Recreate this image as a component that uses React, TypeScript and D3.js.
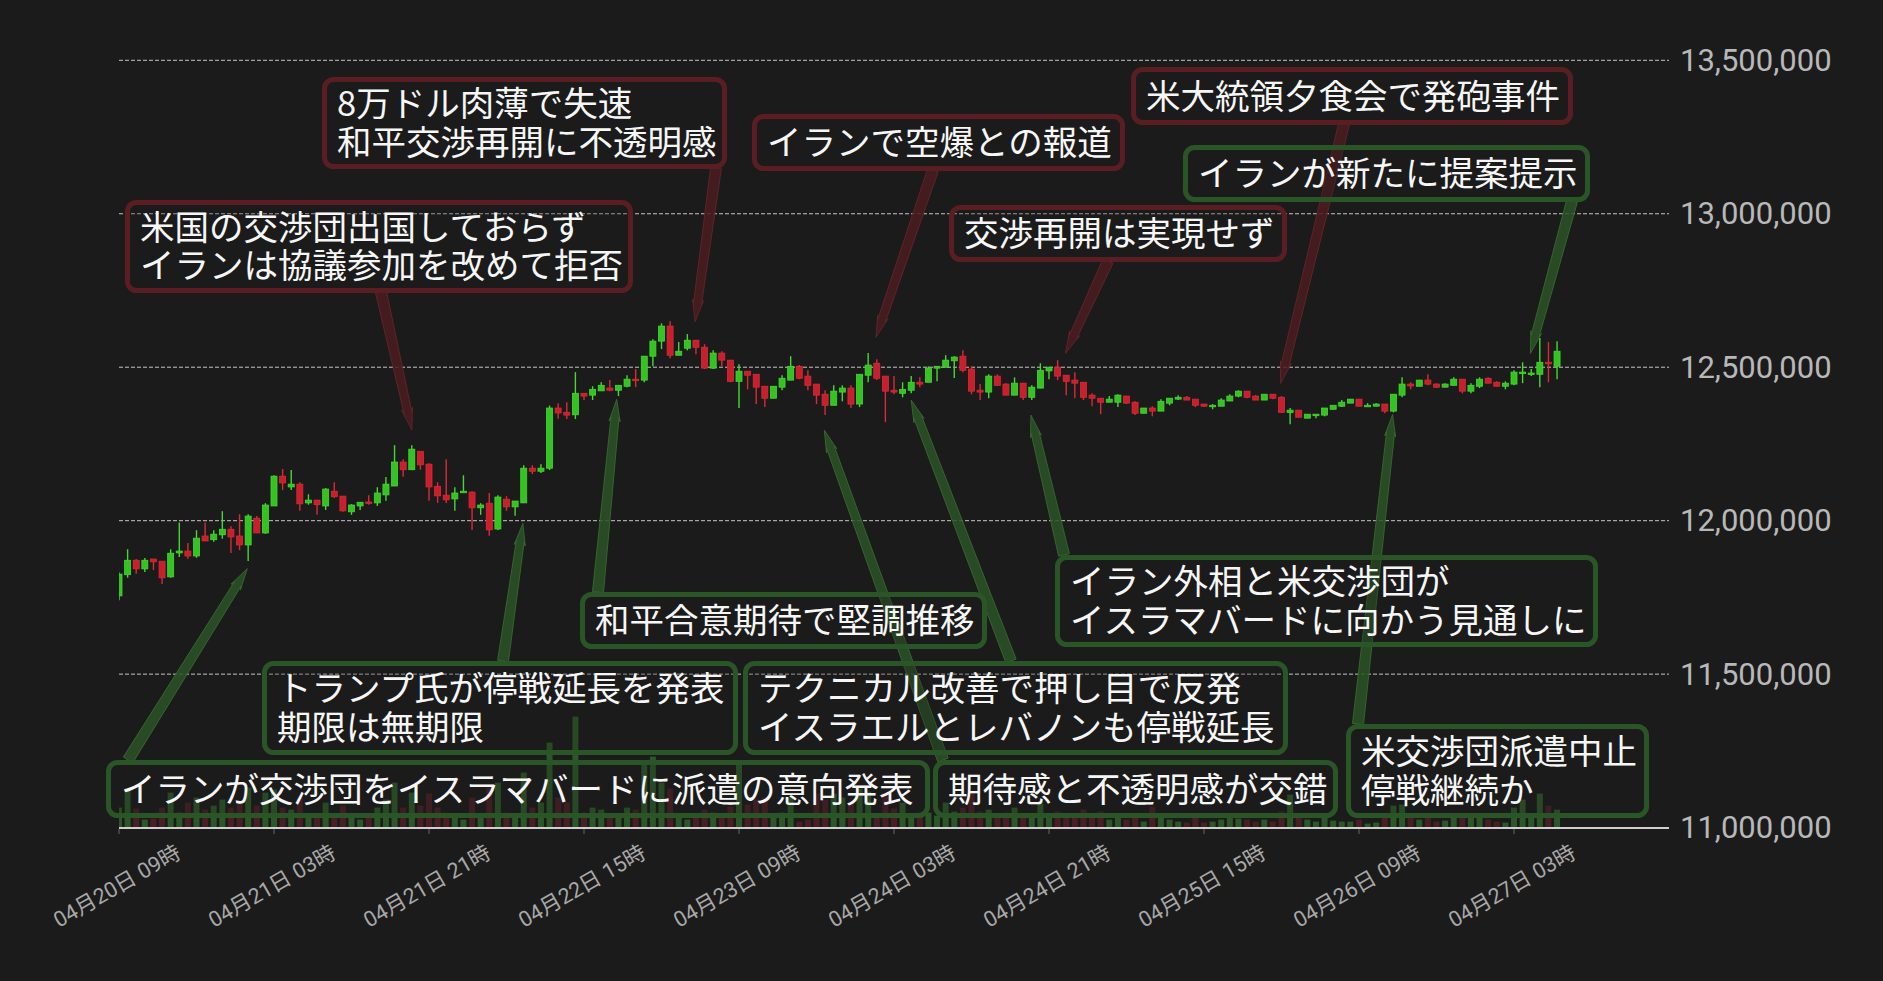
import React from "react";
import * as d3 from "d3";

const W = 1883;
const H = 981;

// hourly candles, values in thousands of JPY
const START = new Date(2026, 3, 20, 9, 0, 0);
const END = new Date(2026, 3, 27, 21, 0, 0);

const opens = [
  11755, 11824, 11871, 11843, 11875, 11868, 11817, 11895, 11901, 11885,
  11950, 11938, 11954, 11972, 11950, 11921, 12008, 11960, 12048, 12145,
  12110, 12119, 12058, 12067, 12048, 12096, 12080, 12029, 12048, 12061,
  12058, 12084, 12113, 12191, 12166, 12226, 12184, 12112, 12083, 12071,
  12091, 12093, 12042, 12057, 11973, 12070, 12045, 12058, 12171, 12161,
  12171, 12367, 12353, 12345, 12415, 12409, 12423, 12432, 12425, 12438,
  12461, 12458, 12536, 12585, 12634, 12539, 12562, 12588, 12565, 12497,
  12546, 12523, 12454, 12487, 12477, 12438, 12399, 12435, 12458, 12503,
  12471, 12445, 12412, 12376, 12419, 12432, 12380, 12474, 12513, 12471,
  12425, 12415, 12425, 12451, 12451, 12497, 12500, 12521, 12536, 12494,
  12425, 12419, 12471, 12445, 12409, 12448, 12402, 12432, 12488, 12500,
  12474, 12458, 12451, 12409, 12399, 12386, 12386, 12406, 12386, 12350,
  12367, 12357, 12383, 12396, 12402, 12396, 12380, 12373, 12373, 12390,
  12406, 12422, 12406, 12393, 12412, 12402, 12353, 12360, 12334, 12343,
  12344, 12363, 12373, 12383, 12396, 12373, 12373, 12380, 12357, 12409,
  12445, 12438, 12458, 12445, 12435, 12441, 12461, 12422, 12438, 12464,
  12451, 12438, 12445, 12481, 12477, 12477, 12516, 12503,
];
const highs = [
  11832, 11907, 11875, 11878, 11875, 11868, 11907, 11994, 11927, 11969,
  11994, 11969, 12031, 11982, 12021, 12021, 12015, 12057, 12148, 12168,
  12165, 12125, 12086, 12067, 12106, 12125, 12080, 12054, 12060, 12083,
  12109, 12142, 12246, 12200, 12246, 12226, 12187, 12125, 12200, 12109,
  12148, 12096, 12057, 12090, 12083, 12080, 12064, 12181, 12181, 12184,
  12375, 12383, 12386, 12484, 12415, 12438, 12451, 12458, 12441, 12474,
  12494, 12536, 12591, 12643, 12650, 12582, 12608, 12588, 12575, 12555,
  12552, 12523, 12510, 12487, 12477, 12438, 12438, 12474, 12536, 12507,
  12490, 12445, 12425, 12441, 12441, 12441, 12477, 12546, 12526, 12471,
  12471, 12451, 12471, 12467, 12503, 12503, 12539, 12536, 12555, 12503,
  12445, 12477, 12477, 12448, 12467, 12448, 12441, 12513, 12500, 12523,
  12474, 12484, 12451, 12415, 12399, 12406, 12412, 12406, 12389, 12367,
  12373, 12396, 12399, 12409, 12406, 12396, 12380, 12380, 12399, 12412,
  12425, 12422, 12409, 12412, 12412, 12406, 12367, 12360, 12347, 12347,
  12367, 12376, 12393, 12396, 12396, 12383, 12383, 12380, 12412, 12467,
  12451, 12458, 12477, 12448, 12448, 12467, 12461, 12448, 12467, 12467,
  12454, 12454, 12490, 12516, 12494, 12595, 12582, 12585,
];
const lows = [
  11741, 11814, 11827, 11833, 11839, 11794, 11814, 11882, 11876, 11879,
  11934, 11931, 11941, 11895, 11904, 11869, 11960, 11957, 12048, 12100,
  12100, 12032, 12052, 12019, 12035, 12074, 12029, 12019, 12035, 12052,
  12048, 12065, 12113, 12143, 12166, 12166, 12065, 12058, 12058, 12032,
  12091, 11970, 12019, 11951, 11970, 12032, 12016, 12058, 12152, 12155,
  12165, 12332, 12331, 12331, 12393, 12393, 12423, 12422, 12406, 12435,
  12435, 12451, 12503, 12559, 12529, 12539, 12555, 12542, 12494, 12494,
  12503, 12451, 12367, 12428, 12380, 12370, 12399, 12425, 12458, 12461,
  12425, 12380, 12344, 12376, 12389, 12367, 12370, 12451, 12458, 12321,
  12412, 12402, 12415, 12435, 12451, 12454, 12500, 12465, 12484, 12412,
  12393, 12399, 12441, 12409, 12409, 12393, 12393, 12432, 12461, 12458,
  12409, 12399, 12393, 12373, 12347, 12386, 12370, 12380, 12344, 12350,
  12340, 12357, 12376, 12393, 12393, 12370, 12370, 12363, 12373, 12390,
  12402, 12399, 12393, 12393, 12396, 12353, 12314, 12337, 12334, 12334,
  12340, 12363, 12370, 12383, 12373, 12373, 12373, 12350, 12353, 12402,
  12428, 12438, 12441, 12432, 12435, 12441, 12415, 12415, 12432, 12448,
  12438, 12428, 12441, 12448, 12471, 12435, 12451, 12461,
];
const closes = [
  11826, 11871, 11843, 11871, 11866, 11814, 11894, 11901, 11885, 11943,
  11934, 11956, 11972, 11947, 11921, 12015, 11960, 12051, 12145, 12123,
  12119, 12055, 12067, 12052, 12103, 12078, 12032, 12051, 12060, 12058,
  12090, 12119, 12191, 12166, 12233, 12182, 12110, 12081, 12068, 12090,
  12096, 12042, 12051, 11970, 12077, 12045, 12064, 12171, 12161, 12171,
  12367, 12351, 12344, 12415, 12406, 12428, 12441, 12425, 12441, 12461,
  12458, 12536, 12585, 12634, 12539, 12552, 12588, 12565, 12497, 12546,
  12523, 12454, 12487, 12474, 12435, 12399, 12438, 12464, 12503, 12464,
  12441, 12409, 12376, 12422, 12432, 12380, 12477, 12507, 12464, 12422,
  12419, 12428, 12451, 12445, 12497, 12503, 12523, 12533, 12490, 12422,
  12419, 12471, 12441, 12409, 12448, 12402, 12435, 12490, 12500, 12471,
  12454, 12448, 12402, 12399, 12386, 12396, 12409, 12383, 12350, 12367,
  12357, 12389, 12399, 12402, 12393, 12376, 12373, 12376, 12393, 12406,
  12422, 12402, 12393, 12412, 12399, 12353, 12360, 12337, 12347, 12347,
  12367, 12376, 12386, 12396, 12373, 12376, 12380, 12357, 12412, 12445,
  12439, 12458, 12445, 12435, 12445, 12461, 12422, 12441, 12461, 12448,
  12438, 12448, 12484, 12484, 12481, 12516, 12513, 12552,
];
const volumes = [
  20, 39, 19, 8, 9, 20, 35, 15, 25, 30,
  18, 22, 28, 20, 26, 40, 22, 35, 38, 20,
  18, 30, 10, 12, 25, 14, 22, 10, 8, 12,
  20, 28, 45, 20, 35, 22, 34, 20, 15, 12,
  8, 30, 10, 40, 45, 15, 12, 55, 20, 25,
  85, 30, 25, 111, 15, 20, 18, 12, 10, 20,
  18, 66, 71, 45, 39, 13, 8, 10, 18, 15,
  12, 21, 66, 23, 28, 30, 12, 15, 30, 6,
  8, 34, 28, 34, 30, 25, 39, 36, 13, 34,
  19, 25, 10, 15, 15, 12, 25, 16, 20, 36,
  16, 18, 12, 15, 20, 14, 12, 24, 10, 16,
  12, 14, 18, 10, 16, 8, 10, 8, 14, 6,
  21, 12, 8, 6, 5, 10, 5, 6, 8, 10,
  9, 8, 6, 8, 6, 16, 33, 10, 8, 6,
  12, 7, 6, 6, 8, 4, 5, 10, 22, 23,
  10, 8, 12, 6, 7, 12, 14, 10, 12, 8,
  6, 5, 20, 28, 10, 34, 22, 18,
];

const yTicks = [11000000, 11500000, 12000000, 12500000, 13000000, 13500000];
const xTickStrings = [
  "2026-04-20T09:00", "2026-04-21T03:00", "2026-04-21T21:00", "2026-04-22T15:00",
  "2026-04-23T09:00", "2026-04-24T03:00", "2026-04-24T21:00", "2026-04-25T15:00",
  "2026-04-26T09:00", "2026-04-27T03:00",
];

// annotations: text lines, tone, and the candle (hour index) + price the arrow points at
const annTexts = [
  ["米国の交渉団出国しておらず", "イランは協議参加を改めて拒否"],
  ["8万ドル肉薄で失速", "和平交渉再開に不透明感"],
  ["イランで空爆との報道"],
  ["米大統領夕食会で発砲事件"],
  ["交渉再開は実現せず"],
  ["イランが新たに提案提示"],
  ["和平合意期待で堅調推移"],
  ["トランプ氏が停戦延長を発表", "期限は無期限"],
  ["テクニカル改善で押し目で反発", "イスラエルとレバノンも停戦延長"],
  ["イランが交渉団をイスラマバードに派遣の意向発表"],
  ["期待感と不透明感が交錯"],
  ["イラン外相と米交渉団が", "イスラマバードに向かう見通しに"],
  ["米交渉団派遣中止", "停戦継続か"],
];
const annTones = ["red", "red", "red", "red", "red", "green", "green", "green", "green", "green", "green", "green", "green"];
const annHour = [34, 66.9, 87.9, 134.9, 109.9, 163.9, 57.8, 46.9, 92, 14.9, 81.9, 105.9, 147.9];
const annPrice = [12295000, 12648000, 12597000, 12447000, 12545000, 12545000, 12395000, 11991000, 12393000, 11844000, 12295000, 12344000, 12346000];

// layout of the callout boxes (outer box) and where the arrow leaves the box
const boxLayout = [
  { x: 125, y: 200, w: 508, h: 93, sx: 381, sy: 292 },
  { x: 322, y: 77, w: 405, h: 92, sx: 716, sy: 168 },
  { x: 752, y: 114, w: 373, h: 57, sx: 933, sy: 170 },
  { x: 1131, y: 67, w: 442, h: 58, sx: 1344, sy: 124 },
  { x: 949, y: 205, w: 338, h: 57, sx: 1108, sy: 261 },
  { x: 1183, y: 145, w: 407, h: 57, sx: 1572, sy: 201 },
  { x: 580, y: 592, w: 407, h: 57, sx: 598, sy: 592 },
  { x: 262, y: 661, w: 476, h: 94, sx: 503, sy: 661 },
  { x: 743, y: 661, w: 545, h: 94, sx: 1011, sy: 661 },
  { x: 106, y: 760, w: 824, h: 58, sx: 128, sy: 760 },
  { x: 933, y: 760, w: 405, h: 58, sx: 943, sy: 760 },
  { x: 1055, y: 555, w: 543, h: 92, sx: 1064, sy: 555 },
  { x: 1346, y: 724, w: 303, h: 94, sx: 1358, sy: 724 },
];

const BG = "#1b1b1b";
const UP = "#34c321";
const UP_EDGE = "#46d832";
const DOWN = "#c7202c";
const DOWN_EDGE = "#d92a37";
const TONE = {
  red: { stroke: "#5a1e22", arrow: "#4b1c20", arrowEdge: "#62252a" },
  green: { stroke: "#2a5526", arrow: "#2a5226", arrowEdge: "#37692f" },
};

function arrowPoints(sx: number, sy: number, tx: number, ty: number) {
  const dx = tx - sx, dy = ty - sy;
  const L = Math.hypot(dx, dy);
  const ux = dx / L, uy = dy / L;
  const nx = -uy, ny = ux;
  const hw0 = 5.5, hw1 = 4, hh = 5.5, headLen = 18;
  const px = tx - ux * headLen, py = ty - uy * headLen;
  const pts = [
    [sx + nx * hw0, sy + ny * hw0],
    [px + nx * hw1, py + ny * hw1],
    [px + nx * hh - ux * 4, py + ny * hh - uy * 4],
    [tx, ty],
    [px - nx * hh - ux * 4, py - ny * hh - uy * 4],
    [px - nx * hw1, py - ny * hw1],
    [sx - nx * hw0, sy - ny * hw0],
  ];
  return pts.map((p) => p.map((v) => v.toFixed(1)).join(",")).join(" ");
}

export default function App() {
  const left = 119, right = 1669;
  const x = d3.scaleTime().domain([START, END]).range([left, right]);
  const y = d3.scaleLinear().domain([11000000, 13500000]).range([827.6, 60.3]);
  const vH = d3.scaleLinear().domain([0, 120]).range([0, 120]);
  const times = d3.timeHour.range(START, d3.timeHour.offset(START, opens.length));
  const parse = d3.timeParse("%Y-%m-%dT%H:%M");
  const xTicks = xTickStrings.map((s) => parse(s) as Date);
  const fmt = d3.timeFormat("%m月%d日 %H時");
  const yFmt = d3.format(",");
  const bw = 6;
  const K = 1000;

  return (
    <svg width={W} height={H} style={{ position: "absolute", left: 0, top: 0, display: "block" }}>
      <defs>
        <clipPath id="plot">
          <rect x={left} y={0} width={right - left} height={828} />
        </clipPath>
      </defs>
      <rect x={0} y={0} width={W} height={H} fill={BG} />
      {/* gridlines */}
      {yTicks.slice(1).map((t) => (
        <line key={t} x1={left} x2={right} y1={y(t)} y2={y(t)} stroke="#c4c4c4" strokeWidth={1} strokeDasharray="4,2" />
      ))}
      {/* volume */}
      <g clipPath="url(#plot)">
        {times.map((t, i) => {
          const up = closes[i] >= opens[i];
          const h = vH(volumes[i]);
          return (
            <rect key={"v" + i} x={x(t) - bw / 2} y={827.6 - h} width={bw} height={h} fill={up ? "#2b5826" : "#4a1f24"} />
          );
        })}
      </g>
      {/* candles */}
      <g clipPath="url(#plot)">
        {times.map((t, i) => {
          const up = closes[i] >= opens[i];
          const cx = x(t);
          const o = y(opens[i] * K), c = y(closes[i] * K);
          const hi = y(highs[i] * K), lo = y(lows[i] * K);
          const top = Math.min(o, c), bh = Math.max(1.5, Math.abs(o - c));
          return (
            <g key={"c" + i}>
              <line x1={cx} x2={cx} y1={hi} y2={lo} stroke={up ? UP_EDGE : DOWN_EDGE} strokeWidth={1.4} />
              <rect x={cx - bw / 2} y={top} width={bw} height={bh} fill={up ? UP : DOWN} stroke={up ? UP_EDGE : DOWN_EDGE} strokeWidth={0.8} />
            </g>
          );
        })}
      </g>
      {/* x axis */}
      <line x1={left} x2={right} y1={828} y2={828} stroke="#cfcfcf" strokeWidth={2} />
      {xTicks.map((t, i) => (
        <g key={"xt" + i}>
          <line x1={x(t)} x2={x(t)} y1={829} y2={834} stroke="#666" strokeWidth={1} />
          <text
            transform={`translate(${x(t) - 2},886) rotate(-30)`}
            textAnchor="middle"
            dominantBaseline="central"
            fill="#a8a8a8"
            fontSize={21.5}
            fontFamily="Roboto, 'Noto Sans CJK JP', sans-serif"
          >
            {fmt(t)}
          </text>
        </g>
      ))}
      {/* y labels */}
      {yTicks.map((t) => (
        <text key={"yl" + t} x={1680} y={y(t)} dominantBaseline="central" fill="#b8b8b8" fontSize={31} fontFamily="Roboto, 'Noto Sans', sans-serif">
          {yFmt(t)}
        </text>
      ))}
      {/* arrows */}
      {annTexts.map((_, i) => {
        const tone = TONE[annTones[i] as "red" | "green"];
        const b = boxLayout[i];
        const tx = x(d3.timeMinute.offset(START, Math.round(annHour[i] * 60)));
        const ty = y(annPrice[i]);
        return (
          <polygon key={"a" + i} points={arrowPoints(b.sx, b.sy, tx, ty)} fill={tone.arrow} fillOpacity={0.85} stroke={tone.arrowEdge} strokeWidth={1} strokeOpacity={0.9} />
        );
      })}
      {/* boxes */}
      {annTexts.map((lines, i) => {
        const tone = TONE[annTones[i] as "red" | "green"];
        const b = boxLayout[i];
        const sw = 5;
        const cy = b.y + b.h / 2 - 2.5;
        const lh = 38.5;
        return (
          <g key={"b" + i}>
            <rect x={b.x + sw / 2} y={b.y + sw / 2} width={b.w - sw} height={b.h - sw} rx={9} ry={9} fill="rgba(27,27,27,0.25)" stroke={tone.stroke} strokeWidth={sw} />
            {lines.map((ln, j) => (
              <text
                key={j}
                x={b.x + 15}
                y={cy + (j - (lines.length - 1) / 2) * lh}
                dominantBaseline="central"
                fill="#f6f6f6"
                fontSize={34.5}
                fontFamily="'Noto Sans CJK JP', sans-serif"
              >
                {ln}
              </text>
            ))}
          </g>
        );
      })}
    </svg>
  );
}
